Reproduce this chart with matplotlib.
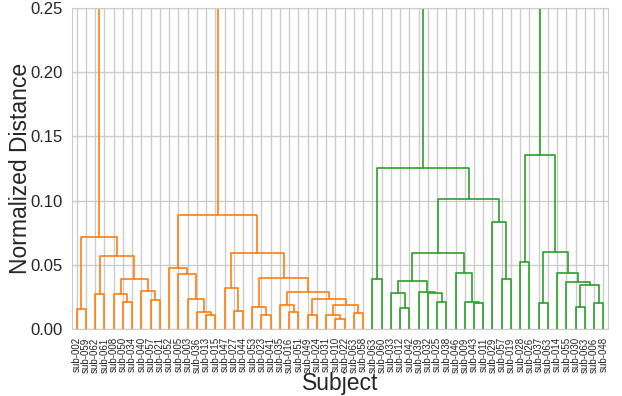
import matplotlib
matplotlib.use('Agg')
import matplotlib.pyplot as plt
import seaborn as sns

# Порядок листьев дендрограммы (слева направо)
leaf_labels = ['sub-002', 'sub-059', 'sub-062', 'sub-061', 'sub-008', 'sub-050', 'sub-034', 'sub-040',
               'sub-057', 'sub-021', 'sub-052', 'sub-005', 'sub-003', 'sub-036', 'sub-013', 'sub-015',
               'sub-047', 'sub-027', 'sub-044', 'sub-053', 'sub-023', 'sub-041', 'sub-035', 'sub-016',
               'sub-051', 'sub-049', 'sub-024', 'sub-031', 'sub-010', 'sub-022', 'sub-063', 'sub-058',
               'sub-063', 'sub-060', 'sub-033', 'sub-012', 'sub-042', 'sub-039', 'sub-032', 'sub-025',
               'sub-038', 'sub-046', 'sub-009', 'sub-043', 'sub-011', 'sub-029', 'sub-057', 'sub-019',
               'sub-028', 'sub-026', 'sub-037', 'sub-063', 'sub-014', 'sub-055', 'sub-030', 'sub-063',
               'sub-006', 'sub-048']

# Связи (как linkage в scipy): новый узел получает номер 58 + номер строки
left_ids = [0, 2, 5, 4, 8, 7, 61, 59, 58,
            14, 13, 12, 11, 10, 17, 16, 20, 19, 23, 22, 25, 28, 27, 30, 80, 78, 77, 75, 73, 71,
            32, 35, 34, 39, 38, 37, 90, 43, 42, 41, 94, 46, 45, 98, 88,
            48, 50, 54, 56, 105, 53, 52, 104, 103,
            66, 102, 112]
right_ids = [1, 3, 6, 60, 9, 62, 63, 64, 65,
             15, 67, 68, 69, 70, 18, 72, 21, 74, 24, 76, 26, 29, 79, 31, 81, 82, 83, 84, 85, 86,
             33, 36, 89, 40, 91, 92, 93, 44, 95, 96, 97, 47, 99, 100, 101,
             49, 51, 55, 57, 106, 107, 108, 109, 110,
             87, 111, 113]
heights = [0.0158, 0.0273, 0.0208, 0.0270, 0.0226, 0.0298, 0.0387, 0.0569, 0.0719,
           0.0110, 0.0132, 0.0235, 0.0428, 0.0475, 0.0142, 0.0317, 0.0107, 0.0174, 0.0135, 0.0187,
           0.0110, 0.0080, 0.0112, 0.0125, 0.0190, 0.0232, 0.0290, 0.0400, 0.0590, 0.0890,
           0.0390, 0.0166, 0.0278, 0.0208, 0.0280, 0.0292, 0.0376, 0.0202, 0.0208, 0.0439,
           0.0594, 0.0387, 0.0830, 0.1010, 0.1256,
           0.0520, 0.0200, 0.0170, 0.0200, 0.0343, 0.0366, 0.0439, 0.0600, 0.1357,
           0.32, 0.30, 0.60]

# цвет каждой связи: оранжевый кластер, зеленый кластер, затем верхние связи
link_colors = ['C1'] * 30 + ['C2'] * 24 + ['C1', 'C2', 'grey']

sns.set_style('whitegrid')
plt.rcParams['font.family'] = ['Liberation Sans', 'DejaVu Sans']

fig = plt.figure(figsize=(6.22, 3.96), dpi=100)
ax = fig.add_axes([0.1158, 0.1692, 0.8617, 0.8106])

n = len(leaf_labels)
xpos = {i: 5 + 10 * i for i in range(n)}
ypos = {i: 0.0 for i in range(n)}

for k in range(len(heights)):
    a, b, h = left_ids[k], right_ids[k], heights[k]
    xa, xb = xpos[a], xpos[b]
    ax.plot([xa, xa, xb, xb], [ypos[a], h, h, ypos[b]], color=link_colors[k], lw=1.2)
    xpos[n + k] = (xa + xb) / 2
    ypos[n + k] = h

ax.set_xlim(0, 10 * n)
ax.set_ylim(0, 0.25)
ax.set_xticks([5 + 10 * i for i in range(n)])
ax.set_xticklabels(leaf_labels, rotation=90, fontsize=7, color='.15')
ax.set_yticks([0, 0.05, 0.10, 0.15, 0.20, 0.25])
ax.set_yticklabels(['0.00', '0.05', '0.10', '0.15', '0.20', '0.25'], fontsize=12, color='.15')
ax.tick_params(axis='x', pad=2.5)
ax.tick_params(axis='y', pad=3)
ax.grid(True, color='.8', lw=1)
ax.set_axisbelow(True)

ax.set_xlabel('Subject', fontsize=16.5, color='.15')
ax.set_ylabel('Normalized Distance', fontsize=16.5, color='.15')
ax.xaxis.set_label_coords(0.5, -0.134)
ax.yaxis.set_label_coords(-0.0746, 0.5)

fig.savefig('out.png', dpi=100)
